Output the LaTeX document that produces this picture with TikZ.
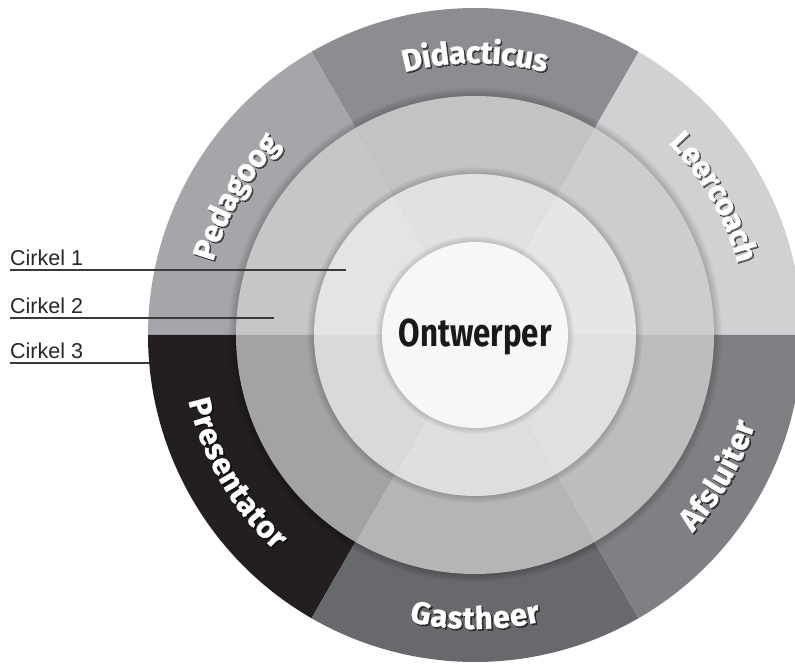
\documentclass[tikz,border=0pt]{standalone}
\usepackage{fontspec}
\setmainfont{Liberation Sans}
\newfontfamily\rolfont[FakeBold=1]{Fira Sans}
\newfontfamily\kernfont[FakeStretch=0.8]{Fira Sans}
\usetikzlibrary{decorations.text}

% buitenste ring (rollen)
\definecolor{leer3}{HTML}{D0D1D3}
\definecolor{did3}{HTML}{8C8D91}
\definecolor{ped3}{HTML}{A5A6AA}
\definecolor{pres3}{HTML}{231F20}
\definecolor{gast3}{HTML}{68696D}
\definecolor{afs3}{HTML}{7F8084}
% cirkel 2
\definecolor{leer2}{HTML}{CDCDCD}
\definecolor{did2}{HTML}{C3C3C3}
\definecolor{ped2}{HTML}{C6C6C6}
\definecolor{pres2}{HTML}{A4A3A4}
\definecolor{gast2}{HTML}{B5B5B5}
\definecolor{afs2}{HTML}{BDBDBD}
% cirkel 1
\definecolor{leer1}{HTML}{E6E6E6}
\definecolor{did1}{HTML}{E1E1E1}
\definecolor{ped1}{HTML}{E4E4E4}
\definecolor{pres1}{HTML}{D9D9D9}
\definecolor{gast1}{HTML}{DEDEDE}
\definecolor{afs1}{HTML}{E0E0E0}
\definecolor{kern}{HTML}{F7F7F7}
\definecolor{lijnkleur}{HTML}{3A3A3A}

\newcommand{\rollabel}[3]{%
  \begin{scope}[shift={(1.5,-1.5)},fill opacity=0.45]
  \path[rolpad, decoration={text color=black,
    text={|\rolfont\bfseries\fontsize{31}{31}\selectfont|#3}}]
    (#1:283) arc[start angle=#1, end angle=#2, radius=283];
  \end{scope}
  \path[rolpad, decoration={text color=white,
    text={|\rolfont\bfseries\fontsize{31}{31}\selectfont|#3}}]
    (#1:283) arc[start angle=#1, end angle=#2, radius=283];
}

\begin{document}
\begin{tikzpicture}[x=1pt,y=1pt]
\tikzstyle{rolpad} = [decorate, decoration={text along path, text align=center, raise=-11pt}]
\tikzstyle{cirkel} = [anchor=south west, inner xsep=0pt, inner ysep=4.5pt, font=\fontsize{21.5}{24}\selectfont, text=black!85]
\tikzstyle{lijn} = [draw=lijnkleur, line width=1.3pt]
\tikzstyle{schaduw} = [fill=black, opacity=0.025]

\clip (-475,-331) rectangle (320,335);

% buitenste ring
\foreach \a/\c in {0/leer3,60/did3,120/ped3,180/pres3,240/gast3,300/afs3}
  \fill[\c] (0,0) -- (\a:327) arc[start angle=\a, end angle=\a+60, radius=327] -- cycle;

% cirkel 2
\foreach \k in {1,...,8} \fill[schaduw] (0,0) circle (239+\k);
\foreach \a/\c in {0/leer2,60/did2,120/ped2,180/pres2,240/gast2,300/afs2}
  \fill[\c] (0,0) -- (\a:239) arc[start angle=\a, end angle=\a+60, radius=239] -- cycle;

% cirkel 1
\foreach \k in {1,...,7} \fill[schaduw] (0,0) circle (161+\k);
\foreach \a/\c in {0/leer1,60/did1,120/ped1,180/pres1,240/gast1,300/afs1}
  \fill[\c] (0,0) -- (\a:161) arc[start angle=\a, end angle=\a+60, radius=161] -- cycle;

% kern
\foreach \k in {1,...,6} \fill[schaduw] (0,0) circle (93+\k);
\fill[kern] (0,0) circle (93);
\node[anchor=base, font=\kernfont\bfseries\fontsize{39}{39}\selectfont, text=black!90] (ontwerper) at (0,-12) {Ontwerper};

% rollen
\rollabel{120}{60}{Didacticus}
\rollabel{180}{120}{Pedagoog}
\rollabel{60}{0}{Leercoach}
\rollabel{180}{240}{Presentator}
\rollabel{240}{300}{Gastheer}
\rollabel{300}{360}{Afsluiter}

% legenda
\node[cirkel] (c1) at (-465,65) {Cirkel 1};
\node[cirkel] (c2) at (-465,17) {Cirkel 2};
\node[cirkel] (c3) at (-465,-28) {Cirkel 3};
\coordinate (e1) at (-129,65);
\coordinate (e2) at (-201,17);
\coordinate (e3) at (-326,-28);
\draw[lijn] (c1.south west) -- (e1);
\draw[lijn] (c2.south west) -- (e2);
\draw[lijn] (c3.south west) -- (e3);
\end{tikzpicture}
\end{document}
